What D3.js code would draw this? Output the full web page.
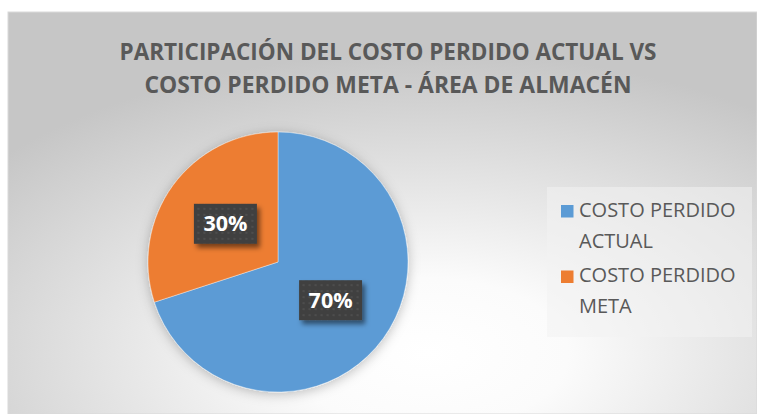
<!DOCTYPE html>
<html lang="es">
<head>
<meta charset="utf-8">
<title>Participación del costo perdido</title>
<script src="https://cdn.jsdelivr.net/npm/d3@7"></script>
<style>
    body { margin: 0; background: #fff; }
    svg { display: block; }
    .title { font-family: "Open Sans", sans-serif; font-weight: bold; font-size: 22.5px; fill: #595959; }
    .legend text { font-family: "Open Sans", sans-serif; font-size: 20px; fill: #595959; }
    .label text { font-family: "Open Sans", sans-serif; font-weight: bold; font-size: 21.5px; fill: #fff; }
</style>
</head>
<body>
<div id="chart"></div>
<script>
// data
var categories = ["COSTO PERDIDO ACTUAL", "COSTO PERDIDO META"];
var values = [70, 30];
var legendLines = [["COSTO PERDIDO", "ACTUAL"], ["COSTO PERDIDO", "META"]];
var titleLines = ["PARTICIPACIÓN DEL COSTO PERDIDO ACTUAL VS", "COSTO PERDIDO META - ÁREA DE ALMACÉN"];
var colors = ["#5B9BD5", "#ED7D31"];

var width = 757, height = 414;
var cx = 278, cy = 262, radius = 130;

var svg = d3.select("#chart").append("svg")
    .attr("width", width)
    .attr("height", height);

var defs = svg.append("defs");

var bg = defs.append("radialGradient")
    .attr("id", "bg")
    .attr("cx", "0.56").attr("cy", "0.85").attr("r", "0.75");
bg.append("stop").attr("offset", "0").attr("stop-color", "#ffffff");
bg.append("stop").attr("offset", "0.25").attr("stop-color", "#fbfbfb");
bg.append("stop").attr("offset", "1").attr("stop-color", "#c6c6c6");

var sh = defs.append("filter").attr("id", "pieShadow")
    .attr("x", "-20%").attr("y", "-20%").attr("width", "140%").attr("height", "140%");
sh.append("feDropShadow").attr("dx", 0).attr("dy", 2).attr("stdDeviation", 6)
    .attr("flood-color", "#000").attr("flood-opacity", 0.25);

var lsh = defs.append("filter").attr("id", "labShadow")
    .attr("x", "-30%").attr("y", "-30%").attr("width", "160%").attr("height", "160%");
lsh.append("feDropShadow").attr("dx", 3).attr("dy", 4).attr("stdDeviation", 2.5)
    .attr("flood-color", "#000").attr("flood-opacity", 0.5);

var dots = defs.append("pattern").attr("id", "dots")
    .attr("patternUnits", "userSpaceOnUse").attr("width", 6).attr("height", 6);
dots.append("rect").attr("width", 6).attr("height", 6).attr("fill", "#404040");
dots.append("circle").attr("cx", 3).attr("cy", 3).attr("r", 1).attr("fill", "#525252");

// chart area
svg.append("rect")
    .attr("x", 8).attr("y", 12)
    .attr("width", width - 8).attr("height", height - 12)
    .attr("fill", "url(#bg)")
    .attr("stroke", "#d9d9d9").attr("stroke-width", 1);

// title
svg.selectAll(".title")
    .data(titleLines)
    .enter().append("text")
    .attr("class", "title")
    .attr("x", 388)
    .attr("y", function(d, i) { return 59.5 + i * 33.5; })
    .attr("text-anchor", "middle")
    .attr("textLength", function(d, i) { return i == 0 ? 537 : 487; })
    .attr("lengthAdjust", "spacingAndGlyphs")
    .text(function(d) { return d; });

// pie
var pie = d3.pie().sort(null).value(function(d) { return d; });
var arcs = pie(values);
var arc = d3.arc().innerRadius(0).outerRadius(radius);
var labelArc = d3.arc().innerRadius(radius / 2).outerRadius(radius / 2);

var g = svg.append("g").attr("transform", "translate(" + cx + "," + cy + ")");

g.append("g").attr("filter", "url(#pieShadow)")
    .selectAll("path")
    .data(arcs)
    .enter().append("path")
    .attr("d", arc)
    .attr("fill", function(d, i) { return colors[i]; })
    .attr("stroke", "#ffffff")
    .attr("stroke-width", 0.4);

var lab = g.selectAll(".label")
    .data(arcs)
    .enter().append("g")
    .attr("class", "label")
    .attr("transform", function(d) {
        var c = labelArc.centroid(d);
        return "translate(" + c[0] + "," + c[1] + ")";
    });

lab.append("rect")
    .attr("x", -31.5).attr("y", -20)
    .attr("width", 63).attr("height", 40)
    .attr("fill", "url(#dots)")
    .attr("filter", "url(#labShadow)");

lab.append("text")
    .attr("text-anchor", "middle")
    .attr("y", 7.5)
    .text(function(d) {
        var total = d3.sum(values);
        return Math.round(d.value / total * 100) + "%";
    });

// legend
svg.append("rect")
    .attr("x", 547).attr("y", 187)
    .attr("width", 205).attr("height", 150)
    .attr("fill", "#f2f2f2").attr("fill-opacity", 0.55);

var legend = svg.selectAll(".legend")
    .data(categories)
    .enter().append("g")
    .attr("class", "legend")
    .attr("transform", function(d, i) { return "translate(561," + (216.5 + i * 65.5) + ")"; });

legend.append("rect")
    .attr("x", 0).attr("y", -11.5)
    .attr("width", 12.5).attr("height", 12.5)
    .attr("fill", function(d, i) { return colors[i]; });

legend.each(function(d, i) {
    d3.select(this).selectAll("text")
        .data(legendLines[i])
        .enter().append("text")
        .attr("x", 18)
        .attr("y", function(t, j) { return j * 31; })
        .text(function(t) { return t; });
});
</script>
</body>
</html>
